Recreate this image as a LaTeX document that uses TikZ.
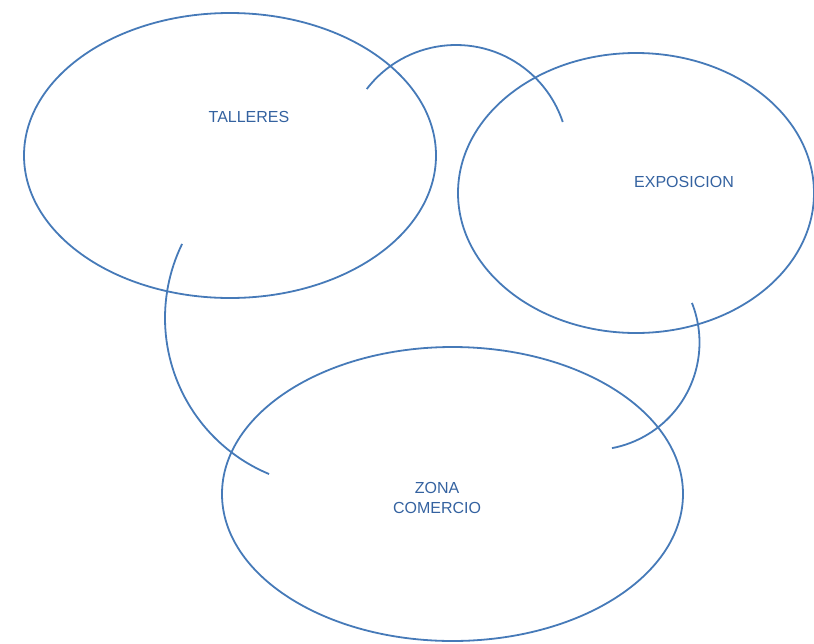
\documentclass[tikz,border=0pt]{standalone}
\usepackage{fontspec}
\setmainfont{Liberation Sans}
\usetikzlibrary{shapes.geometric}
\definecolor{zonaline}{RGB}{70,122,184}
\definecolor{zonatext}{RGB}{52,98,160}

\begin{document}
\begin{tikzpicture}[x=1pt, y=-1pt,
  zona/.style={ellipse, draw=zonaline, line width=1.8pt, inner sep=0pt},
  lbl/.style={text=zonatext, font=\fontsize{16}{20}\selectfont, align=center, inner sep=0pt},
  arcline/.style={draw=zonaline, line width=1.8pt}]
  \useasboundingbox (0,0) rectangle (814,643);
  \node[zona, minimum width=412pt, minimum height=285pt] (talleres) at (230,155.5) {};
  \node[zona, minimum width=356pt, minimum height=280pt] (exposicion) at (636,193) {};
  \node[zona, minimum width=461pt, minimum height=294pt] (comercio) at (452.5,494) {};
  \node[lbl] (tallereslbl) at (249,117) {TALLERES};
  \node[lbl] (exposicionlbl) at (684,182) {EXPOSICION};
  \node[lbl] (comerciolbl) at (437,498) {ZONA\\COMERCIO};
  % arcos entre zonas
  \coordinate (arcotop) at (456,157.5);
  \coordinate (arcoleft) at (334,318);
  \coordinate (arcoright) at (592,342.5);
  \draw[arcline] (arcotop) ++(-142.5:112.5) arc[start angle=-142.5, end angle=-18.4, radius=112.5];
  \draw[arcline] (arcoleft) ++(-154:169) arc[start angle=-154, end angle=-247.4, radius=169];
  \draw[arcline] (arcoright) ++(-21.6:107.5) arc[start angle=-21.6, end angle=79.3, radius=107.5];
\end{tikzpicture}
\end{document}
